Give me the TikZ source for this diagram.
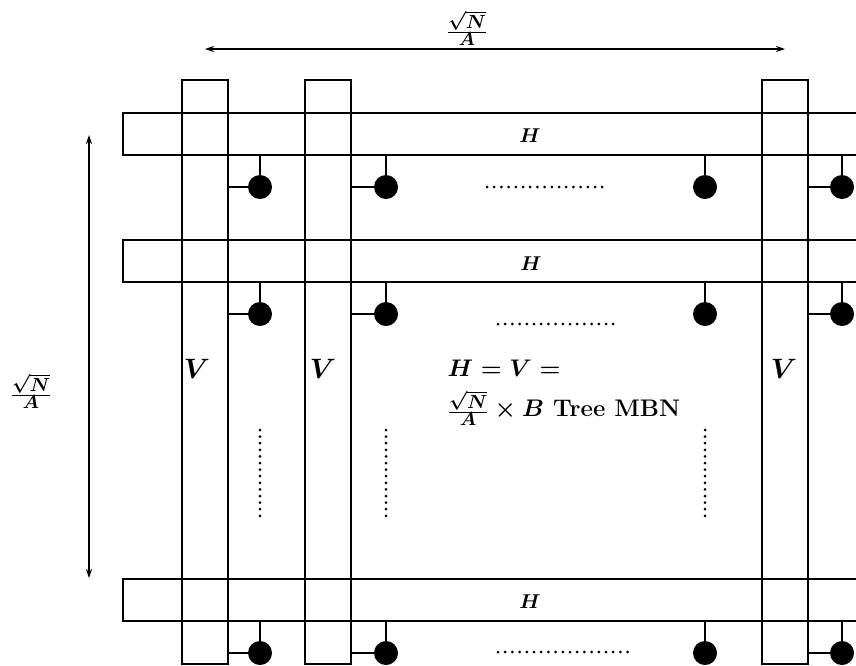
\documentclass[tikz,border=0pt]{standalone}
\usepackage{fix-cm}
\usetikzlibrary{arrows.meta}
\newcommand{\sqna}{\frac{\textstyle\sqrt{N}}{\textstyle A}}
\begin{document}
\begin{tikzpicture}[x=1pt,y=-1pt,line width=1.2pt,
  vbar/.style={draw,rectangle,minimum width=46pt,minimum height=584pt,inner sep=0pt,outer sep=0pt,anchor=north},
  hbar/.style={draw,rectangle,minimum width=780pt,minimum height=42pt,inner sep=0pt,outer sep=0pt,anchor=west},
  dotc/.style={circle,fill=black,minimum size=24pt,inner sep=0pt,outer sep=0pt},
  wire/.style={line width=1.1pt},
  dotline/.style={line width=3pt,dash pattern=on 0pt off 7.2pt,line cap=round},
  vdotline/.style={line width=3pt,dash pattern=on 0pt off 6.6pt,line cap=round},
  dim/.style={line width=1.1pt,{Stealth[length=9pt,width=6pt]}-{Stealth[length=9pt,width=6pt]}},
  lbl/.style={inner sep=0pt,font=\fontsize{20}{24}\selectfont\boldmath},
  vlbl/.style={inner sep=0pt,font=\fontsize{28}{32}\selectfont\boldmath},
  big/.style={inner sep=0pt,anchor=west,font=\fontsize{24}{28}\selectfont\bfseries\boldmath},
  frac/.style={inner sep=0pt,font=\fontsize{19}{23}\selectfont\boldmath}]
\useasboundingbox (0,0) rectangle (856,665);
\clip (0,0) rectangle (856,665);
% bars
\node[vbar] (v1) at (205,80) {};
\node[vbar] (v2) at (328,80) {};
\node[vbar] (v3) at (785,80) {};
\node[hbar] (h1) at (123,134) {};
\node[hbar] (h2) at (123,261) {};
\node[hbar] (h3) at (123,600) {};
% labels in bars
\node[lbl] (lh1) at (530,136) {$H$};
\node[lbl] (lh2) at (531,264) {$H$};
\node[lbl] (lh3) at (530,602) {$H$};
\node[vlbl] (lv1) at (197,369) {$V$};
\node[vlbl] (lv2) at (323,369) {$V$};
\node[vlbl] (lv3) at (784,369) {$V$};
% circles
\foreach \r/\y/\h in {1/187/h1,2/314/h2,3/653/h3}{
  \node[dotc] (c\r a) at (260,\y) {};
  \node[dotc] (c\r b) at (386,\y) {};
  \node[dotc] (c\r c) at (705,\y) {};
  \node[dotc] (c\r d) at (842,\y) {};
  \foreach \k in {a,b,c,d}{\draw[wire] (c\r\k) -- (c\r\k |- \h.south);}
  \draw[wire] (c\r a) -- (c\r a -| v1.east);
  \draw[wire] (c\r b) -- (c\r b -| v2.east);
  \draw[wire] (c\r d) -- (c\r d -| v3.east);
}
% dotted lines
\coordinate (d1a) at (487,187); \coordinate (d1b) at (606,187);
\coordinate (d2a) at (498,324); \coordinate (d2b) at (617,324);
\coordinate (d3a) at (498,652); \coordinate (d3b) at (628,652);
\draw[dotline] (d1a) -- (d1b);
\draw[dotline] (d2a) -- (d2b);
\draw[dotline] (d3a) -- (d3b);
\coordinate (e1a) at (260,430); \coordinate (e1b) at (260,517);
\coordinate (e2a) at (386,430); \coordinate (e2b) at (386,517);
\coordinate (e3a) at (705,430); \coordinate (e3b) at (705,517);
\draw[vdotline] (e1a) -- (e1b);
\draw[vdotline] (e2a) -- (e2b);
\draw[vdotline] (e3a) -- (e3b);
% dimension arrows
\coordinate (ta) at (205,49); \coordinate (tb) at (785,49);
\draw[dim] (ta) -- (tb);
\node[frac] (tl) at (467,28) {$\sqna$};
\coordinate (la) at (89,135); \coordinate (lb) at (89,578);
\draw[dim] (la) -- (lb);
\node[frac] (ll) at (31,391) {$\sqna$};
% central text
\node[big] (t1) at (447,368) {$H = V =$};
\node[big] (t2) at (447,408) {{\fontsize{19}{23}\selectfont$\sqna$}$\mathord{}\times B$ Tree MBN};
\end{tikzpicture}
\end{document}
